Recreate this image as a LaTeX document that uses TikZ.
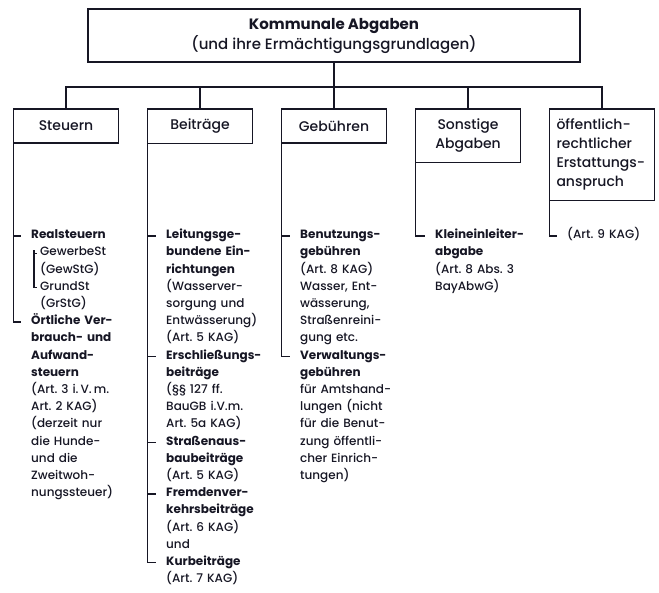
\documentclass[tikz,border=0pt]{standalone}
\usepackage{fontspec}
\setmainfont{Poppins}[UprightFont=* Medium, BoldFont=* Bold]
\usepackage{tikz}
\usetikzlibrary{positioning, calc}
\definecolor{ink}{RGB}{22,22,36}
\frenchspacing

\begin{document}
\begin{tikzpicture}[
            x=1pt, y=1pt,
            level 1/.style={sibling distance=134pt, level distance=73.5pt}, % Distance between the boxes
            every child node/.style={anchor=north},
            edge from parent/.style={draw=ink, line width=1.1pt},
            edge from parent path={(\tikzparentnode.south) -- ++(0,-25) -| (\tikzchildnode.north)},
            topbox/.style={draw=ink, line width=1.3pt, outer sep=0pt, minimum width=492pt, minimum height=53pt, align=center, text=ink, font=\fontsize{15}{20}\selectfont},
            catbox/.style={draw=ink, line width=1.3pt, outer sep=0pt, minimum width=105pt, minimum height=34pt, inner xsep=7pt, inner ysep=10pt, text=ink, font=\fontsize{14}{19}\selectfont},
            entry/.style={anchor=mid west, text width=112pt, align=left, inner xsep=10pt, inner ysep=0pt, text=ink, font=\fontsize{12}{17.2}\selectfont},
            subentry/.style={entry, inner xsep=3pt},
            bracket/.style={draw=ink, line width=1.1pt}
            ]
        \useasboundingbox (0,0) rectangle (659,-593);

        % Root with the five kinds of levies
        \node[topbox] (kommunal) at (334,-35.5) {\textbf{Kommunale Abgaben}\\(und ihre Ermächtigungsgrundlagen)}
            child {node[catbox] (steuern) {Steuern}}
            child {node[catbox] (beitraege) {Beiträge}}
            child {node[catbox] (gebuehren) {Gebühren}}
            child {node[catbox, text width=91pt, align=center] (sonstige) {Sonstige\\Abgaben}}
            child {node[catbox, text width=91pt, align=left] (erstattung) {öffentlich-\\rechtlicher\\Erstattungs-\\anspruch}};

        % Steuern
        \node[entry] (real) at (21,-236) {\textbf{Realsteuern}};
        \node[subentry] (gewerbe) at (37,-253.2) {GewerbeSt\\(GewStG)};
        \node[subentry] (grund) at (37,-287.6) {GrundSt\\(GrStG)};
        \node[entry] (oertlich) at (21,-322) {\textbf{Örtliche Ver-\\brauch- und\\Aufwand-\\steuern}\\(Art. 3 i.\,V.\,m.\\Art. 2 KAG)\\(derzeit nur\\die Hunde-\\und die\\Zweitwoh-\\nungssteuer)};
        \draw[bracket] (steuern.south west) |- (oertlich.mid west);
        \draw[bracket] (steuern.south west |- real.mid west) -- (real.mid west);
        \draw[bracket] ($(gewerbe.mid west)+(-3,3)$) |- (grund.mid west);
        \draw[bracket] ($(gewerbe.mid west)+(-3,0)$) -- (gewerbe.mid west);

        % Beitraege
        \node[entry] (leitung) at (156,-236) {\textbf{Leitungsge-\\bundene Ein-\\richtungen}\\(Wasserver-\\sorgung und\\Entwässerung)\\(Art. 5 KAG)};
        \node[entry] (erschl) at (156,-356.4) {\textbf{Erschließungs-\\beiträge}\\(§§ 127 ff.\\BauGB i.V.m.\\Art. 5a KAG)};
        \node[entry] (strasse) at (156,-442.4) {\textbf{Straßenaus-\\baubeiträge}\\(Art. 5 KAG)};
        \node[entry] (fremden) at (156,-494) {\textbf{Fremdenver-\\kehrsbeiträge}\\(Art. 6 KAG)\\und};
        \node[entry] (kur) at (156,-562.8) {\textbf{Kurbeiträge}\\(Art. 7 KAG)};
        \draw[bracket] (beitraege.south west) |- (kur.mid west);
        \foreach \e in {leitung, erschl, strasse, fremden}
            \draw[bracket] (beitraege.south west |- \e.mid west) -- (\e.mid west);

        % Gebuehren
        \node[entry] (benutzung) at (290,-236) {\textbf{Benutzungs-\\gebühren}\\(Art. 8 KAG)\\Wasser, Ent-\\wässerung,\\Straßenreini-\\gung etc.};
        \node[entry] (verwaltung) at (290,-356.4) {\textbf{Verwaltungs-\\gebühren}\\für Amtshand-\\lungen (nicht\\für die Benut-\\zung öffentli-\\cher Einrich-\\tungen)};
        \draw[bracket] (gebuehren.south west) |- (verwaltung.mid west);
        \draw[bracket] (gebuehren.south west |- benutzung.mid west) -- (benutzung.mid west);

        % Sonstige Abgaben
        \node[entry] (klein) at (425,-236) {\textbf{Kleineinleiter-\\abgabe}\\(Art. 8 Abs. 3\\BayAbwG)};
        \draw[bracket] (sonstige.south west) |- (klein.mid west);

        % Erstattungsanspruch
        \node[entry] (art9) at (557,-236) {(Art. 9 KAG)};
        \draw[bracket] (erstattung.south west) |- (art9.mid west);

\end{tikzpicture}
\end{document}
